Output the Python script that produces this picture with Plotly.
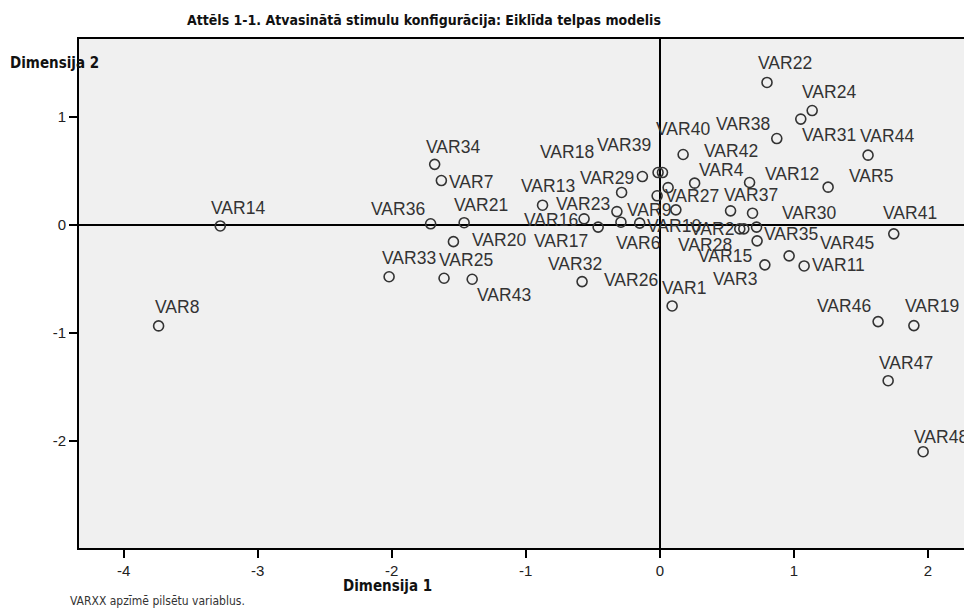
import plotly.graph_objects as go

# ---- data ----
names = ["VAR8", "VAR14", "VAR36", "VAR21", "VAR34", "VAR7", "VAR20", "VAR33",
         "VAR25", "VAR43", "VAR32", "VAR13", "VAR16", "VAR17", "VAR6", "VAR10",
         "VAR18", "VAR23", "VAR29", "VAR39", "VAR40", "VAR27", "VAR26", "VAR9",
         "VAR42", "VAR4", "VAR12", "VAR5", "VAR22", "VAR24", "VAR31", "VAR38",
         "VAR44", "VAR37", "VAR30", "VAR2", "VAR28", "VAR15", "VAR35", "VAR3",
         "VAR45", "VAR11", "VAR41", "VAR1", "VAR46", "VAR19", "VAR47", "VAR48"]
dim1 = [-3.74, -3.28, -1.71, -1.46, -1.68, -1.63, -1.54, -2.02,
        -1.61, -1.40, -0.58, -0.875, -0.565, -0.46, -0.29, -0.15,
        -0.285, -0.32, -0.13, -0.013, 0.02, -0.02, 0.062, 0.12,
        0.174, 0.26, 0.67, 1.256, 0.80, 1.137, 1.052, 0.873,
        1.554, 0.528, 0.692, 0.597, 0.627, 0.722, 0.726, 0.784,
        0.965, 1.077, 1.746, 0.092, 1.629, 1.896, 1.704, 1.965]
dim2 = [-0.935, -0.01, 0.01, 0.02, 0.56, 0.41, -0.155, -0.48,
        -0.494, -0.503, -0.525, 0.182, 0.056, -0.021, 0.025, 0.016,
        0.30, 0.123, 0.447, 0.484, 0.484, 0.269, 0.345, 0.139,
        0.651, 0.386, 0.392, 0.349, 1.318, 1.058, 0.979, 0.799,
        0.645, 0.13, 0.108, -0.037, -0.037, -0.021, -0.148, -0.37,
        -0.287, -0.38, -0.083, -0.75, -0.895, -0.932, -1.442, -2.099]

x_ticks = [-4, -3, -2, -1, 0, 1, 2]
y_ticks = [-2, -1, 0, 1]

title_text = "Attēls 1-1. Atvasinātā stimulu konfigurācija: Eiklīda telpas modelis"
x_title = "Dimensija 1"
y_title = "Dimensija 2"
footnote = "VARXX apzīmē pilsētu variablus."

# ---- label placement (pixel offsets of label centre from its point: dx right, dy down) ----
label_offsets = [(18, -19), (18, -18), (-33, -15), (17, -18), (18, -17), (30, 1), (46, -2), (20, -19),
                 (22, -18), (32, 16), (-7, -18), (5, -19), (-33, 1), (-37, 14), (17, 21), (34, 3),
                 (-55, -40), (-34, -8), (-35, 1), (-34, -28), (21, -44), (35, 0), (-37, 92), (-27, 0),
                 (48, -4), (27, -13), (42, -9), (43, -11), (18, -19), (17, -19), (28, 16), (-34, -15),
                 (19, -19), (20, -16), (56, 0), (-28, 0), (-39, 16), (-32, 29), (34, -7), (-30, 14),
                 (58, -13), (34, -1), (16, -21), (12, -18), (-34, -16), (18, -20), (18, -18), (18, -15)]

W, H = 964, 609
L, R, T, B = 79, 0, 39, 61

fig = go.Figure()
fig.add_trace(go.Scatter(
    x=dim1, y=dim2, mode="markers",
    marker=dict(symbol="circle-open", size=10, color="#333333", line=dict(width=1.6)),
    hoverinfo="text", text=names, showlegend=False,
))

label_font = dict(family="Liberation Sans, Arial, sans-serif", size=17.5, color="#333333")
annotations = []
for n, xv, yv, (dx, dy) in zip(names, dim1, dim2, label_offsets):
    annotations.append(dict(x=xv, y=yv, xref="x", yref="y", text=n, showarrow=False,
                            xshift=dx, yshift=-dy, font=label_font,
                            xanchor="center", yanchor="middle"))

pw = W - L - R
ph = H - T - B
def px(xp):
    return (xp - L) / pw
def py(yp):
    return (H - B - yp) / ph

narrow = "Liberation Sans Narrow, DejaVu Sans Condensed, Arial Narrow, sans-serif"
annotations.append(dict(xref="paper", yref="paper", x=px(424), y=py(20), text="<b>" + title_text + "</b>",
                        showarrow=False, xanchor="center", yanchor="middle",
                        font=dict(family=narrow, size=14, color="#111111")))
annotations.append(dict(xref="paper", yref="paper", x=px(8), y=py(63), text="<b>" + y_title + "</b>",
                        showarrow=False, xanchor="left", yanchor="middle",
                        font=dict(family=narrow, size=15, color="#111111")))
annotations.append(dict(xref="paper", yref="paper", x=px(387), y=py(586), text="<b>" + x_title + "</b>",
                        showarrow=False, xanchor="center", yanchor="middle",
                        font=dict(family=narrow, size=15, color="#111111")))
annotations.append(dict(xref="paper", yref="paper", x=px(68), y=py(601), text=footnote,
                        showarrow=False, xanchor="left", yanchor="middle",
                        font=dict(family=narrow, size=12, color="#333333")))

tick_font = dict(family="Liberation Sans, Arial, sans-serif", size=15, color="#222222")
fig.update_layout(
    width=W, height=H,
    margin=dict(l=L, r=R, t=T, b=B, pad=0),
    paper_bgcolor="white", plot_bgcolor="#f0f0f0",
    annotations=annotations,
    xaxis=dict(range=[-4.334, 2.27], tickmode="array", tickvals=x_ticks,
               ticktext=[str(v) for v in x_ticks],
               showgrid=False, zeroline=True, zerolinecolor="black", zerolinewidth=2,
               showline=True, linecolor="black", linewidth=2, mirror=True,
               ticks="outside", ticklen=8, tickwidth=1.5, tickcolor="black",
               tickfont=tick_font, fixedrange=True),
    yaxis=dict(range=[-2.99, 1.72], tickmode="array", tickvals=y_ticks,
               ticktext=[str(v) for v in y_ticks],
               showgrid=False, zeroline=True, zerolinecolor="black", zerolinewidth=2,
               showline=True, linecolor="black", linewidth=2, mirror=False,
               ticks="outside", ticklen=8, tickwidth=1.5, tickcolor="black",
               tickfont=tick_font, fixedrange=True),
)

fig.write_html("out.html",
               post_script="document.body.style.margin='0';document.body.style.overflow='hidden';",
               config={"displayModeBar": False})
